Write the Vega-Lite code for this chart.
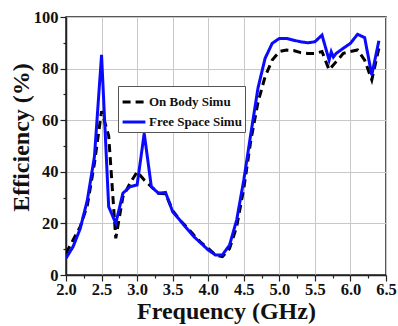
{
  "$schema": "https://vega.github.io/schema/vega-lite/v6.json",
  "width": 320,
  "height": 258,
  "autosize": {"type": "none"},
  "padding": {"left": 66, "top": 17, "right": 12, "bottom": 51},
  "background": "white",
  "config": {
    "view": {"stroke": "#222", "strokeWidth": 1.5},
    "axis": {
      "labelFont": "Liberation Serif",
      "labelFontWeight": "bold",
      "labelFontSize": 16.5,
      "labelColor": "#111",
      "titleFont": "Liberation Serif",
      "titleFontWeight": "bold",
      "titleFontSize": 24,
      "titleColor": "#111",
      "domainColor": "#222",
      "domainWidth": 1.5,
      "tickColor": "#222",
      "tickWidth": 1.2,
      "gridColor": "#c8c8c8",
      "gridWidth": 1
    },
    "legend": {
      "labelFont": "Liberation Serif",
      "labelFontWeight": "bold",
      "labelFontSize": 13,
      "labelColor": "#111"
    }
  },
  "data": {
    "values": [
      {"freq": 2.0, "eff": 8.4, "series": "On Body Simu"},
      {"freq": 2.1, "eff": 13.6, "series": "On Body Simu"},
      {"freq": 2.2, "eff": 18.7, "series": "On Body Simu"},
      {"freq": 2.3, "eff": 27.0, "series": "On Body Simu"},
      {"freq": 2.4, "eff": 43.3, "series": "On Body Simu"},
      {"freq": 2.5, "eff": 63.5, "series": "On Body Simu"},
      {"freq": 2.6, "eff": 54.0, "series": "On Body Simu"},
      {"freq": 2.7, "eff": 14.2, "series": "On Body Simu"},
      {"freq": 2.8, "eff": 30.3, "series": "On Body Simu"},
      {"freq": 2.9, "eff": 35.5, "series": "On Body Simu"},
      {"freq": 3.0, "eff": 40.0, "series": "On Body Simu"},
      {"freq": 3.1, "eff": 36.8, "series": "On Body Simu"},
      {"freq": 3.2, "eff": 34.2, "series": "On Body Simu"},
      {"freq": 3.3, "eff": 31.7, "series": "On Body Simu"},
      {"freq": 3.4, "eff": 31.5, "series": "On Body Simu"},
      {"freq": 3.5, "eff": 25.0, "series": "On Body Simu"},
      {"freq": 3.6, "eff": 21.3, "series": "On Body Simu"},
      {"freq": 3.7, "eff": 18.5, "series": "On Body Simu"},
      {"freq": 3.8, "eff": 15.4, "series": "On Body Simu"},
      {"freq": 3.9, "eff": 12.5, "series": "On Body Simu"},
      {"freq": 4.0, "eff": 10.3, "series": "On Body Simu"},
      {"freq": 4.1, "eff": 7.8, "series": "On Body Simu"},
      {"freq": 4.2, "eff": 7.1, "series": "On Body Simu"},
      {"freq": 4.3, "eff": 10.3, "series": "On Body Simu"},
      {"freq": 4.4, "eff": 18.7, "series": "On Body Simu"},
      {"freq": 4.5, "eff": 33.6, "series": "On Body Simu"},
      {"freq": 4.6, "eff": 52.3, "series": "On Body Simu"},
      {"freq": 4.7, "eff": 67.0, "series": "On Body Simu"},
      {"freq": 4.8, "eff": 76.9, "series": "On Body Simu"},
      {"freq": 4.9, "eff": 83.3, "series": "On Body Simu"},
      {"freq": 5.0, "eff": 86.6, "series": "On Body Simu"},
      {"freq": 5.1, "eff": 87.2, "series": "On Body Simu"},
      {"freq": 5.2, "eff": 87.0, "series": "On Body Simu"},
      {"freq": 5.3, "eff": 86.2, "series": "On Body Simu"},
      {"freq": 5.4, "eff": 85.9, "series": "On Body Simu"},
      {"freq": 5.5, "eff": 85.9, "series": "On Body Simu"},
      {"freq": 5.6, "eff": 86.6, "series": "On Body Simu"},
      {"freq": 5.7, "eff": 79.5, "series": "On Body Simu"},
      {"freq": 5.8, "eff": 82.7, "series": "On Body Simu"},
      {"freq": 5.9, "eff": 85.9, "series": "On Body Simu"},
      {"freq": 6.0, "eff": 86.6, "series": "On Body Simu"},
      {"freq": 6.1, "eff": 87.2, "series": "On Body Simu"},
      {"freq": 6.2, "eff": 83.3, "series": "On Body Simu"},
      {"freq": 6.3, "eff": 75.6, "series": "On Body Simu"},
      {"freq": 6.4, "eff": 87.9, "series": "On Body Simu"},
      {"freq": 2.0, "eff": 6.5, "series": "Free Space Simu"},
      {"freq": 2.1, "eff": 11.0, "series": "Free Space Simu"},
      {"freq": 2.2, "eff": 18.0, "series": "Free Space Simu"},
      {"freq": 2.3, "eff": 29.0, "series": "Free Space Simu"},
      {"freq": 2.4, "eff": 45.9, "series": "Free Space Simu"},
      {"freq": 2.5, "eff": 85.3, "series": "Free Space Simu"},
      {"freq": 2.6, "eff": 26.5, "series": "Free Space Simu"},
      {"freq": 2.7, "eff": 20.0, "series": "Free Space Simu"},
      {"freq": 2.8, "eff": 31.7, "series": "Free Space Simu"},
      {"freq": 2.9, "eff": 34.2, "series": "Free Space Simu"},
      {"freq": 3.0, "eff": 34.9, "series": "Free Space Simu"},
      {"freq": 3.1, "eff": 54.9, "series": "Free Space Simu"},
      {"freq": 3.2, "eff": 34.2, "series": "Free Space Simu"},
      {"freq": 3.3, "eff": 31.7, "series": "Free Space Simu"},
      {"freq": 3.4, "eff": 32.0, "series": "Free Space Simu"},
      {"freq": 3.5, "eff": 24.5, "series": "Free Space Simu"},
      {"freq": 3.6, "eff": 21.3, "series": "Free Space Simu"},
      {"freq": 3.7, "eff": 18.0, "series": "Free Space Simu"},
      {"freq": 3.8, "eff": 14.8, "series": "Free Space Simu"},
      {"freq": 3.9, "eff": 12.3, "series": "Free Space Simu"},
      {"freq": 4.0, "eff": 9.7, "series": "Free Space Simu"},
      {"freq": 4.1, "eff": 7.8, "series": "Free Space Simu"},
      {"freq": 4.2, "eff": 7.8, "series": "Free Space Simu"},
      {"freq": 4.3, "eff": 11.6, "series": "Free Space Simu"},
      {"freq": 4.4, "eff": 21.3, "series": "Free Space Simu"},
      {"freq": 4.5, "eff": 36.8, "series": "Free Space Simu"},
      {"freq": 4.6, "eff": 54.9, "series": "Free Space Simu"},
      {"freq": 4.7, "eff": 72.5, "series": "Free Space Simu"},
      {"freq": 4.8, "eff": 84.0, "series": "Free Space Simu"},
      {"freq": 4.9, "eff": 89.8, "series": "Free Space Simu"},
      {"freq": 5.0, "eff": 91.7, "series": "Free Space Simu"},
      {"freq": 5.1, "eff": 91.7, "series": "Free Space Simu"},
      {"freq": 5.2, "eff": 91.0, "series": "Free Space Simu"},
      {"freq": 5.3, "eff": 90.4, "series": "Free Space Simu"},
      {"freq": 5.4, "eff": 90.0, "series": "Free Space Simu"},
      {"freq": 5.5, "eff": 90.4, "series": "Free Space Simu"},
      {"freq": 5.6, "eff": 93.0, "series": "Free Space Simu"},
      {"freq": 5.7, "eff": 83.3, "series": "Free Space Simu"},
      {"freq": 5.73, "eff": 86.5, "series": "Free Space Simu"},
      {"freq": 5.76, "eff": 84.5, "series": "Free Space Simu"},
      {"freq": 5.8, "eff": 85.9, "series": "Free Space Simu"},
      {"freq": 5.9, "eff": 87.9, "series": "Free Space Simu"},
      {"freq": 6.0, "eff": 89.8, "series": "Free Space Simu"},
      {"freq": 6.1, "eff": 93.3, "series": "Free Space Simu"},
      {"freq": 6.2, "eff": 92.0, "series": "Free Space Simu"},
      {"freq": 6.3, "eff": 77.5, "series": "Free Space Simu"},
      {"freq": 6.4, "eff": 90.8, "series": "Free Space Simu"}
    ]
  },
  "mark": {"type": "line", "strokeWidth": 3, "clip": true},
  "encoding": {
    "x": {
      "field": "freq",
      "type": "quantitative",
      "scale": {"domain": [2.0, 6.5], "nice": false, "zero": false},
      "axis": {
        "title": "Frequency (GHz)",
        "values": [2.0, 2.25, 2.5, 2.75, 3.0, 3.25, 3.5, 3.75, 4.0, 4.25, 4.5, 4.75, 5.0, 5.25, 5.5, 5.75, 6.0, 6.25, 6.5],
        "labelExpr": "datum.value % 0.5 == 0 ? format(datum.value, '.1f') : ''",
        "tickSize": {"condition": {"test": "datum.value % 0.5 == 0", "value": 6}, "value": 3},
        "gridOpacity": {"condition": {"test": "datum.value % 0.5 == 0", "value": 1}, "value": 0},
        "labelPadding": 0,
        "labelFlush": false,
        "labelOverlap": false,
        "titlePadding": 2
      }
    },
    "y": {
      "field": "eff",
      "type": "quantitative",
      "scale": {"domain": [0, 100], "nice": false},
      "axis": {
        "title": "Efficiency (%)",
        "values": [0, 10, 20, 30, 40, 50, 60, 70, 80, 90, 100],
        "labelExpr": "datum.value % 20 == 0 ? datum.label : ''",
        "tickSize": {"condition": {"test": "datum.value % 20 == 0", "value": 6}, "value": 3},
        "gridOpacity": {"condition": {"test": "datum.value % 20 == 0", "value": 1}, "value": 0},
        "labelPadding": 2,
        "labelFlush": false,
        "labelOverlap": false,
        "titleX": -33,
        "titleY": 120
      }
    },
    "color": {
      "field": "series",
      "type": "nominal",
      "scale": {"domain": ["On Body Simu", "Free Space Simu"], "range": ["#000000", "#0a0aff"]},
      "legend": {
        "title": null,
        "orient": "none",
        "legendX": 52,
        "legendY": 69,
        "symbolType": "stroke",
        "symbolSize": 520,
        "symbolStrokeWidth": 3,
        "rowPadding": 0,
        "strokeColor": "#555",
        "padding": 3,
        "fillColor": "white",
        "labelOffset": 2
      }
    },
    "strokeDash": {
      "field": "series",
      "type": "nominal",
      "scale": {"domain": ["On Body Simu", "Free Space Simu"], "range": [[8, 5], [1, 0]]},
      "legend": null
    }
  }
}
